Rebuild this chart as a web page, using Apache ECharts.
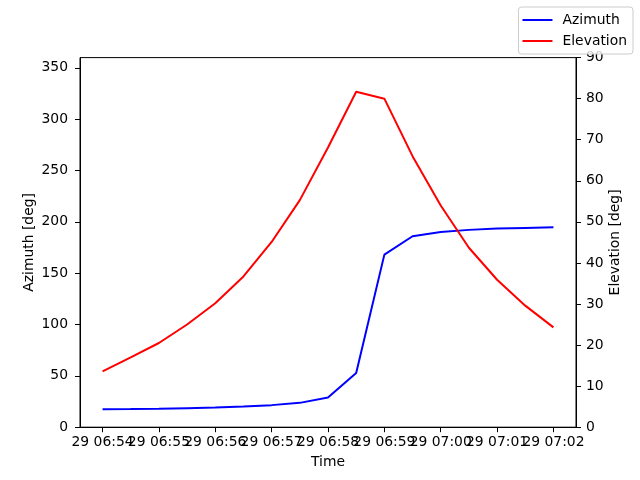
<!DOCTYPE html>
<html>
<head>
<meta charset="utf-8">
<script src="https://cdn.jsdelivr.net/npm/echarts@6/dist/echarts.min.js"></script>
<style>html,body{margin:0;padding:0;background:#fff}#c{width:640px;height:480px}</style>
</head>
<body>
<div id="c"></div>
<script>
const dayLabel = '29';
const times = ['06:54:00','06:54:30','06:55:00','06:55:30','06:56:00','06:56:30','06:57:00','06:57:30','06:58:00','06:58:30','06:59:00','06:59:30','07:00:00','07:00:30','07:01:00','07:01:30','07:02:00'];
const azimuth = [17.6,17.7,17.9,18.5,19.1,20.1,21.5,23.7,28.9,52.7,168.1,186.0,190.2,192.2,193.5,194.1,194.7];
const elevation = [13.6,17.0,20.5,25.0,30.2,36.7,45.1,55.3,68.1,81.7,80.0,66.0,54.0,43.7,35.9,29.6,24.3];
const xTickLabels = ['06:54','06:55','06:56','06:57','06:58','06:59','07:00','07:01','07:02'];
const xRange = ['06:53:36','07:02:24'];
const azTicks = [0,50,100,150,200,250,300,350];
const elTicks = [0,10,20,30,40,50,60,70,80,90];

const base = 6*60+54;
function toMin(s){const p=s.split(':').map(Number);return p[0]*60+p[1]+(p[2]||0)/60-base;}
function fromMin(v){const t=Math.round((v+base)*60)/60;const h=Math.floor(t/60);const m=Math.round(t-h*60);return dayLabel+' '+String(h).padStart(2,'0')+':'+String(m).padStart(2,'0');}
const xVals = times.map(toMin);
const xTickVals = xTickLabels.map(toMin);
const xEven = xTickVals.filter((v,i)=>i%2===0);
const xOdd = xTickVals.filter((v,i)=>i%2===1);

const font = 'DejaVu Sans';
const fs = 13.9;
const xMin = toMin(xRange[0]), xMax = toMin(xRange[1]);
const labelStyle = {fontFamily:font,fontSize:fs,color:'#000',margin:8,hideOverlap:false,showMinLabel:true,showMaxLabel:true,formatter:v=>fromMin(v)};
const chart = echarts.init(document.getElementById('c'));
chart.setOption({
  animation:false,
  backgroundColor:'#fff',
  textStyle:{fontFamily:font},
  grid:{left:80,right:64,top:57.6,bottom:52.8,show:true,borderColor:'#000',borderWidth:1,backgroundColor:'transparent'},
  legend:{
    right:7,top:7,orient:'vertical',
    backgroundColor:'rgba(255,255,255,0.8)',borderColor:'#cccccc',borderWidth:1,borderRadius:3,
    padding:[5,6,5,4],itemWidth:30,itemHeight:2,itemGap:5,
    textStyle:{fontFamily:font,fontSize:fs,color:'#000',padding:[0,0,0,5],lineHeight:16},
    data:[{name:'Azimuth',icon:'rect'},{name:'Elevation',icon:'rect'}]
  },
  xAxis:[{
    type:'value',min:xMin,max:xMax,position:'bottom',
    name:'Time',nameLocation:'middle',nameGap:28,nameMoveOverlap:false,
    nameTextStyle:{fontFamily:font,fontSize:fs,color:'#000'},
    axisLine:{show:true,onZero:false,lineStyle:{color:'#000',width:1}},
    axisTick:{show:true,length:5,lineStyle:{color:'#000'},customValues:xTickVals},
    axisLabel:Object.assign({customValues:xEven},labelStyle),
    splitLine:{show:false}
  },{
    type:'value',min:xMin,max:xMax,position:'bottom',
    axisLine:{show:false,onZero:false},
    axisTick:{show:false},
    axisLabel:Object.assign({customValues:xOdd},labelStyle),
    splitLine:{show:false}
  }],
  yAxis:[{
    type:'value',min:0,max:360,position:'left',
    name:'Azimuth [deg]',nameLocation:'middle',nameGap:44,nameRotate:90,nameMoveOverlap:false,
    nameTextStyle:{fontFamily:font,fontSize:fs,color:'#000'},
    axisLine:{show:true,onZero:false,lineStyle:{color:'#000'}},
    axisTick:{show:true,length:5,lineStyle:{color:'#000'},customValues:azTicks},
    axisLabel:{fontFamily:font,fontSize:fs,color:'#000',margin:12,customValues:azTicks},
    splitLine:{show:false}
  },{
    type:'value',min:0,max:90,interval:10,position:'right',
    name:'Elevation [deg]',nameLocation:'middle',nameGap:32,nameRotate:90,nameMoveOverlap:false,
    nameTextStyle:{fontFamily:font,fontSize:fs,color:'#000'},
    axisLine:{show:true,onZero:false,lineStyle:{color:'#000'}},
    axisTick:{show:true,length:5,lineStyle:{color:'#000'},customValues:elTicks},
    axisLabel:{fontFamily:font,fontSize:fs,color:'#000',margin:10,customValues:elTicks},
    splitLine:{show:false}
  }],
  series:[{
    name:'Azimuth',type:'line',xAxisIndex:0,yAxisIndex:0,symbol:'none',
    lineStyle:{color:'#0000ff',width:2},itemStyle:{color:'#0000ff'},
    data:xVals.map((x,i)=>[x,azimuth[i]])
  },{
    name:'Elevation',type:'line',xAxisIndex:0,yAxisIndex:1,symbol:'none',
    lineStyle:{color:'#ff0000',width:2},itemStyle:{color:'#ff0000'},
    data:xVals.map((x,i)=>[x,elevation[i]])
  }]
});
</script>
</body>
</html>
